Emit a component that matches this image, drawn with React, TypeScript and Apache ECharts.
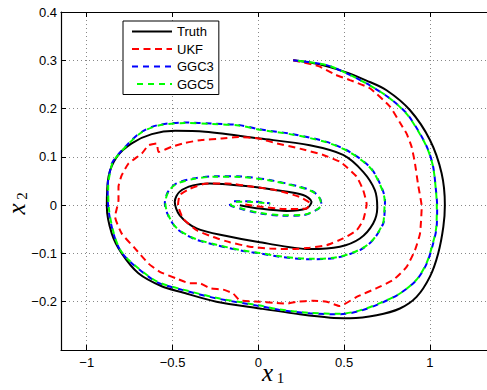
import React, { useEffect, useRef } from "react";
import * as echarts from "echarts";

const seriesNames = ["Truth", "UKF", "GGC3", "GGC5"];
const xTicks = [-1, -0.5, 0, 0.5, 1];

const truth: [number, number][] = [
  [0.203, 0.3], [0.35, 0.292], [0.504, 0.276], [0.63, 0.258], [0.747, 0.238], [0.883, 0.197],
  [1.0, 0.135], [1.068, 0.066], [1.087, 0.0], [1.078, -0.045], [1.048, -0.1], [1.0, -0.148],
  [0.922, -0.19], [0.825, -0.214], [0.689, -0.228], [0.534, -0.234], [0.42, -0.233], [0.242, -0.226],
  [0.009, -0.214], [-0.244, -0.2], [-0.45, -0.18], [-0.563, -0.168], [-0.699, -0.141], [-0.796, -0.1],
  [-0.854, -0.059], [-0.883, -0.003], [-0.873, 0.059], [-0.825, 0.1], [-0.738, 0.128], [-0.621, 0.147],
  [-0.485, 0.154], [-0.31, 0.152], [0.01, 0.138], [0.3, 0.124], [0.494, 0.104], [0.611, 0.069],
  [0.679, 0.031], [0.693, -0.005], [0.669, -0.038], [0.592, -0.069], [0.475, -0.086], [0.3, -0.091],
  [0.009, -0.077], [-0.185, -0.064], [-0.36, -0.048], [-0.458, -0.021], [-0.487, 0.007], [-0.458, 0.028],
  [-0.38, 0.041], [-0.283, 0.045], [-0.089, 0.04], [0.106, 0.031], [0.261, 0.021], [0.31, 0.007],
  [0.281, -0.007], [0.164, -0.012], [0.009, -0.007], [-0.108, 0.0],
];

const ukf: [number, number][] = [
  [0.203, 0.3], [0.35, 0.288], [0.45, 0.27], [0.534, 0.259], [0.65, 0.242], [0.767, 0.204],
  [0.825, 0.171], [0.864, 0.148], [0.893, 0.121], [0.913, 0.086], [0.932, 0.04], [0.952, -0.003],
  [0.942, -0.059], [0.913, -0.093], [0.864, -0.128], [0.786, -0.155], [0.689, -0.172], [0.573, -0.19],
  [0.475, -0.209], [0.398, -0.2], [0.32, -0.198], [0.223, -0.2], [0.164, -0.204], [0.086, -0.202],
  [0.009, -0.2], [-0.108, -0.197], [-0.147, -0.183], [-0.205, -0.175], [-0.283, -0.172], [-0.341, -0.162],
  [-0.399, -0.162], [-0.477, -0.152], [-0.574, -0.138], [-0.64, -0.121], [-0.718, -0.09], [-0.796, -0.059],
  [-0.835, -0.024], [-0.815, 0.01], [-0.815, 0.038], [-0.796, 0.062], [-0.757, 0.086], [-0.679, 0.107],
  [-0.64, 0.124], [-0.592, 0.128], [-0.582, 0.11], [-0.504, 0.121], [-0.427, 0.129], [-0.329, 0.135],
  [-0.213, 0.138], [-0.115, 0.141], [0.001, 0.138], [0.106, 0.128], [0.242, 0.117], [0.378, 0.104],
  [0.475, 0.09], [0.514, 0.079], [0.573, 0.059], [0.611, 0.031], [0.631, 0.002], [0.611, -0.031],
  [0.573, -0.052], [0.494, -0.069], [0.398, -0.083], [0.3, -0.088], [0.203, -0.091], [0.067, -0.09],
  [-0.05, -0.086], [-0.166, -0.077], [-0.264, -0.066], [-0.36, -0.052], [-0.438, -0.028], [-0.468, 0.0],
  [-0.458, 0.021], [-0.399, 0.034], [-0.302, 0.045], [-0.185, 0.045], [-0.03, 0.038], [0.106, 0.031],
  [0.242, 0.017], [0.3, 0.004], [0.281, -0.007], [0.15, -0.008], [0.009, -0.003], [-0.089, 0.002],
];

const ggc3: [number, number][] = [
  [0.203, 0.3], [0.398, 0.29], [0.514, 0.273], [0.65, 0.248], [0.767, 0.221], [0.864, 0.19],
  [0.942, 0.148], [0.99, 0.114], [1.019, 0.079], [1.035, 0.031], [1.042, -0.003], [1.039, -0.045],
  [1.019, -0.079], [0.981, -0.121], [0.922, -0.155], [0.825, -0.183], [0.708, -0.204], [0.592, -0.219],
  [0.475, -0.226], [0.3, -0.224], [0.125, -0.217], [0.009, -0.209], [-0.244, -0.193], [-0.438, -0.176],
  [-0.574, -0.162], [-0.64, -0.148], [-0.757, -0.114], [-0.806, -0.093], [-0.844, -0.059], [-0.873, -0.01],
  [-0.878, 0.038], [-0.854, 0.086], [-0.835, 0.097], [-0.757, 0.128], [-0.679, 0.152], [-0.582, 0.166],
  [-0.427, 0.171], [-0.271, 0.169], [-0.115, 0.166], [0.009, 0.157], [0.203, 0.147], [0.398, 0.131],
  [0.534, 0.11], [0.65, 0.079], [0.708, 0.045], [0.738, 0.01], [0.735, -0.02], [0.728, -0.038],
  [0.669, -0.072], [0.592, -0.093], [0.456, -0.109], [0.3, -0.112], [0.125, -0.107], [0.009, -0.1],
  [-0.089, -0.095], [-0.244, -0.083], [-0.38, -0.069], [-0.477, -0.048], [-0.526, -0.021], [-0.545, 0.004],
  [-0.526, 0.028], [-0.477, 0.045], [-0.38, 0.055], [-0.244, 0.06], [-0.089, 0.059], [0.067, 0.052],
  [0.242, 0.038], [0.32, 0.028], [0.359, 0.014], [0.368, 0.0], [0.339, -0.01], [0.261, -0.021],
  [0.145, -0.022], [0.009, -0.017], [-0.108, -0.007], [-0.166, 0.001], [-0.147, 0.008], [-0.069, 0.008],
  [0.067, 0.004],
];

const ggc5: [number, number][] = [
  [0.203, 0.3], [0.398, 0.29], [0.514, 0.273], [0.65, 0.248], [0.767, 0.221], [0.864, 0.189],
  [0.942, 0.147], [0.99, 0.113], [1.019, 0.078], [1.035, 0.03], [1.04, -0.003], [1.037, -0.045],
  [1.017, -0.079], [0.979, -0.121], [0.92, -0.155], [0.825, -0.183], [0.708, -0.203], [0.592, -0.218],
  [0.475, -0.225], [0.3, -0.223], [0.125, -0.216], [0.009, -0.208], [-0.244, -0.192], [-0.438, -0.175],
  [-0.574, -0.161], [-0.64, -0.147], [-0.757, -0.113], [-0.806, -0.092], [-0.842, -0.059], [-0.87, -0.01],
  [-0.875, 0.038], [-0.852, 0.086], [-0.833, 0.097], [-0.757, 0.127], [-0.679, 0.151], [-0.582, 0.165],
  [-0.427, 0.17], [-0.271, 0.168], [-0.115, 0.165], [0.009, 0.156], [0.203, 0.146], [0.398, 0.13],
  [0.534, 0.109], [0.65, 0.078], [0.706, 0.045], [0.736, 0.01], [0.733, -0.02], [0.726, -0.038],
  [0.667, -0.072], [0.592, -0.092], [0.456, -0.108], [0.3, -0.111], [0.125, -0.106], [0.009, -0.099],
  [-0.089, -0.094], [-0.244, -0.082], [-0.38, -0.068], [-0.477, -0.047], [-0.524, -0.021], [-0.542, 0.004],
  [-0.524, 0.028], [-0.477, 0.044], [-0.38, 0.054], [-0.244, 0.059], [-0.089, 0.058], [0.067, 0.051],
  [0.242, 0.037], [0.32, 0.027], [0.357, 0.014], [0.366, 0.0], [0.337, -0.01], [0.261, -0.02],
  [0.145, -0.021], [0.009, -0.016], [-0.108, -0.006], [-0.16, 0.001], [-0.14, 0.007], [-0.06, 0.007],
  [0.07, 0.003],
];

const FONT = "'Liberation Sans', Arial, Helvetica, sans-serif";
const SERIF = "'Liberation Serif', 'DejaVu Serif', serif";

function fmtX(v: number): string {
  const r = Math.round(v * 100) / 100;
  if (r === 0) return "0";
  return r < 0 ? "\u2212" + String(-r) : String(r);
}
function fmtY(v: number): string {
  const r = Math.round(v * 10) / 10;
  if (Math.abs(r + 0.3) < 1e-6) return "";
  if (r === 0) return "0";
  return r < 0 ? "\u2212" + String(-r) : String(r);
}

const varStyle = (text: string) => ({
  text, fontStyle: "italic", fontSize: 25, fontFamily: SERIF, fill: "#000",
  textAlign: "center", textVerticalAlign: "middle",
});
const subStyle = (text: string) => ({
  text, fontStyle: "normal", fontSize: 15, fontFamily: SERIF, fill: "#000",
  textAlign: "center", textVerticalAlign: "middle",
});

export default function App() {
  const ref = useRef<HTMLDivElement>(null);
  useEffect(() => {
    if (!ref.current) return;
    const chart = echarts.init(ref.current, undefined, { renderer: "svg" });
    const axisLine = { show: true, onZero: false, lineStyle: { color: "#000", width: 1.2 } };
    const tick = { show: true, inside: true, length: 5, lineStyle: { color: "#000", width: 1 } };
    const option: any = {
      animation: false,
      backgroundColor: "#fff",
      grid: { left: 61, top: 12, width: 429, height: 338 },
      xAxis: [
        {
          type: "value", min: -1.15, max: 1.35, position: "bottom",
          axisLine,
          axisTick: { ...tick, customValues: xTicks },
          axisLabel: { customValues: xTicks, formatter: fmtX, color: "#000", fontSize: 13, fontFamily: FONT, margin: 6 },
          splitLine: { show: true, lineStyle: { color: "#888", type: [1, 3], width: 1 } },
        },
        {
          type: "value", min: -1.15, max: 1.35, position: "top",
          axisLine,
          axisTick: { ...tick, customValues: xTicks },
          axisLabel: { show: false, customValues: xTicks },
          splitLine: { show: false },
        },
      ],
      yAxis: [
        {
          type: "value", min: -0.3, max: 0.4, interval: 0.1, position: "left",
          axisLine,
          axisTick: tick,
          axisLabel: { formatter: fmtY, color: "#000", fontSize: 13, fontFamily: FONT, margin: 4 },
          splitLine: { show: true, lineStyle: { color: "#888", type: [1, 3], width: 1 } },
        },
      ],
      legend: {
        data: seriesNames,
        orient: "vertical",
        left: 123,
        top: 21,
        itemWidth: 40,
        itemHeight: 14,
        itemGap: 4.5,
        padding: [4, 5, 4, 8],
        borderColor: "#000",
        borderWidth: 1,
        backgroundColor: "#fff",
        itemStyle: { opacity: 0, color: "rgba(0,0,0,0)", borderWidth: 0 },
        textStyle: { fontSize: 13, fontFamily: FONT, color: "#000" },
      },
      graphic: [
        { type: "text", x: 267.5, y: 372.5, style: varStyle("x") },
        { type: "text", x: 280.5, y: 378, style: subStyle("1") },
        {
          type: "group", x: 16.5, y: 209, rotation: Math.PI / 2,
          children: [
            { type: "text", x: 0, y: 0, style: varStyle("x") },
            { type: "text", x: 13, y: 5.5, style: subStyle("2") },
          ],
        },
      ],
      series: [
        { name: "Truth", type: "line", data: truth, symbol: "none", smooth: 0.3, color: "#000", lineStyle: { color: "#000", width: 2 } },
        { name: "UKF", type: "line", data: ukf, symbol: "none", smooth: 0.15, color: "#ff0000", lineStyle: { color: "#ff0000", width: 2, type: [7, 4.5] } },
        { name: "GGC3", type: "line", data: ggc3, symbol: "none", smooth: 0.3, color: "#0000ff", lineStyle: { color: "#0000ff", width: 2, type: [6, 5] } },
        { name: "GGC5", type: "line", data: ggc5, symbol: "none", smooth: 0.3, color: "#00ff00", lineStyle: { color: "#00ff00", width: 2, type: [6, 5], dashOffset: 5.5 } },
      ],
    };
    chart.setOption(option);
    return () => chart.dispose();
  }, []);
  return (
    <div style={{ position: "fixed", left: 0, top: 0, width: 487, height: 390, overflow: "hidden", background: "#fff" }}>
      <div ref={ref} style={{ width: 500, height: 390 }} />
    </div>
  );
}
